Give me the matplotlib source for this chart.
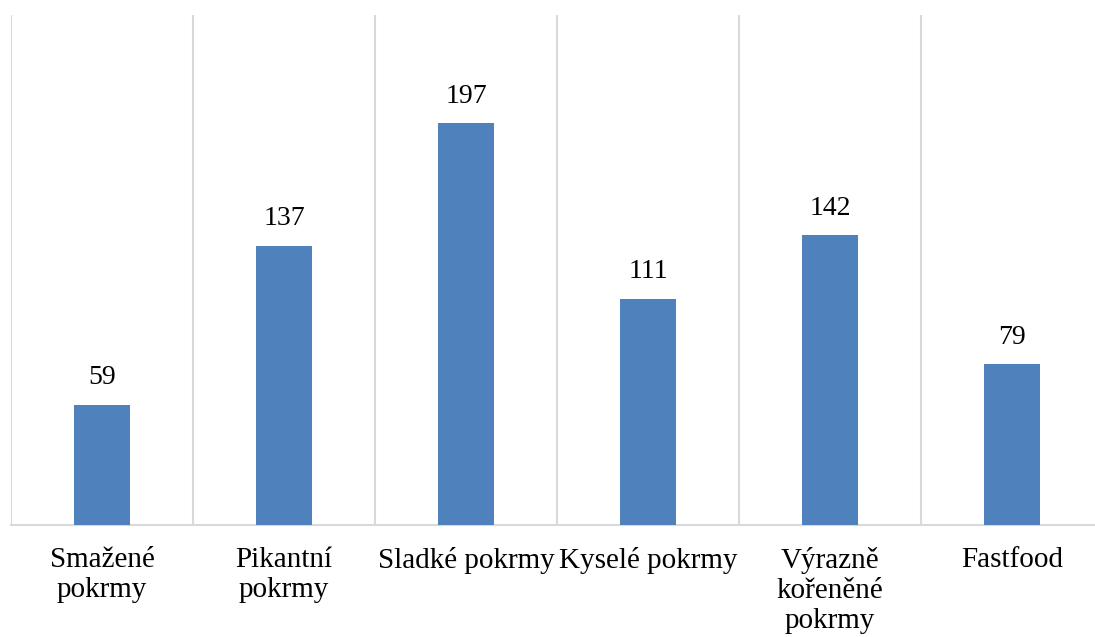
import matplotlib.pyplot as plt
import numpy as np

# === Data ===
categories = ["Smažené\npokrmy", "Pikantní\npokrmy", "Sladké pokrmy",
              "Kyselé pokrmy", "Výrazně\nkořeněné\npokrmy", "Fastfood"]
counts = [59, 137, 197, 111, 142, 79]

plt.rcParams['font.family'] = ['Liberation Serif', 'DejaVu Serif']

fig = plt.figure(figsize=(10.95, 6.37), dpi=100)
ax = fig.add_axes([11 / 1095, 112 / 637, 1092 / 1095, 510 / 637])

x = np.arange(len(categories))
bars = ax.bar(x, counts, width=0.31, color='#4f81bd', zorder=3)

# value labels above the bars
for rect, val in zip(bars, counts):
    ax.text(rect.get_x() + rect.get_width() / 2, val + 7, str(val),
            ha='center', va='bottom', fontsize=20, color='black')

ax.set_xlim(-0.5, len(categories) - 0.5)
ax.set_ylim(0, 250)

# category separators as grid on minor ticks
ax.set_xticks(x)
ax.set_xticklabels(categories, fontsize=21, linespacing=1.2)
ax.set_xticks(np.arange(-0.5, len(categories)), minor=True)
ax.grid(True, axis='x', which='minor', color='#d9d9d9', linewidth=1.5, zorder=0)
ax.tick_params(axis='x', which='both', length=0, pad=16)
ax.set_yticks([])

for side in ['top', 'right', 'left']:
    ax.spines[side].set_visible(False)
ax.spines['bottom'].set_color('#d9d9d9')
ax.spines['bottom'].set_linewidth(1.5)

fig.savefig("out.png", dpi=100)
